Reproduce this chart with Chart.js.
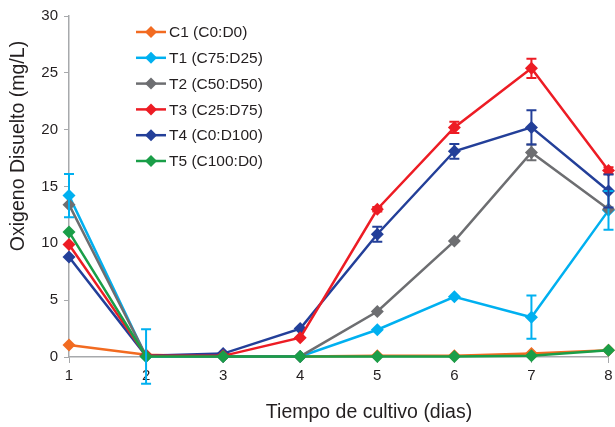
<!DOCTYPE html>
<html>
<head>
<meta charset="utf-8">
<script src="https://cdn.jsdelivr.net/npm/chart.js@4"></script>
<style>
  html, body { margin: 0; padding: 0; background: #fff; }
  #wrap { width: 615px; height: 427px; position: relative; }
</style>
</head>
<body>
<div id="wrap"><canvas id="oxChart" width="615" height="427"></canvas></div>
<script>
// dias de cultivo
const days = [1, 2, 3, 4, 5, 6, 7, 8];

const seriesNames = ["C1 (C0:D0)", "T1 (C75:D25)", "T2 (C50:D50)", "T3 (C25:D75)", "T4 (C0:D100)", "T5 (C100:D0)"];
const seriesColors = ["#F26B21", "#00B0F0", "#6D6E71", "#ED1C24", "#233F99", "#1A9E48"];

const c1 = [1.05, 0.2, 0.05, 0.05, 0.1, 0.1, 0.3, 0.6];
const t1 = [14.2, 0.05, 0.05, 0.05, 2.4, 5.3, 3.5, 12.9];
const t2 = [13.4, 0.1, 0.05, 0.05, 4.0, 10.2, 18.0, 13.0];
const t3 = [9.9, 0.1, 0.1, 1.7, 13.0, 20.2, 25.4, 16.4];
const t4 = [8.8, 0.1, 0.3, 2.5, 10.8, 18.1, 20.2, 14.6];
const t5 = [11.0, 0.05, 0.05, 0.05, 0.05, 0.05, 0.1, 0.6];

// desviaciones (barras de error)
const c1Err = [0, 0, 0, 0, 0, 0, 0, 0];
const t1Err = [1.9, 2.4, 0, 0, 0, 0, 1.9, 1.7];
const t2Err = [0, 0, 0, 0, 0, 0, 0.7, 0];
const t3Err = [0, 0, 0, 0, 0.2, 0.5, 0.85, 0.3];
const t4Err = [0, 0, 0, 0, 0.65, 0.65, 1.5, 1.45];
const t5Err = [0, 0, 0, 0, 0, 0, 0, 0];

const yTicks = [0, 5, 10, 15, 20, 25, 30];
const xTitle = "Tiempo de cultivo (dias)";
const yTitle = "Oxigeno Disuelto (mg/L)";

const allValues = [c1, t1, t2, t3, t4, t5];
const allErrors = [c1Err, t1Err, t2Err, t3Err, t4Err, t5Err];
const drawOrder = [5, 4, 3, 1, 2, 0];

const FONT = "'Liberation Sans', Arial, sans-serif";
const TEXT = "#231F20";

const errorBars = {
  id: "errorBars",
  afterDatasetsDraw(chart) {
    const ctx = chart.ctx;
    const y = chart.scales.y;
    chart.data.datasets.forEach((ds, i) => {
      const meta = chart.getDatasetMeta(i);
      ds.errors.forEach((e, j) => {
        if (!e) return;
        const px = meta.data[j].x;
        const top = y.getPixelForValue(ds.data[j] + e);
        const bot = y.getPixelForValue(ds.data[j] - e);
        ctx.save();
        ctx.strokeStyle = ds.borderColor;
        ctx.lineWidth = 2;
        ctx.beginPath();
        ctx.moveTo(px, top); ctx.lineTo(px, bot);
        ctx.moveTo(px - 5, top); ctx.lineTo(px + 5, top);
        ctx.moveTo(px - 5, bot); ctx.lineTo(px + 5, bot);
        ctx.stroke();
        ctx.restore();
      });
    });
  }
};

// titulos de ejes, colocados como en el original
const axisTitles = {
  id: "axisTitles",
  afterDraw(chart) {
    const ctx = chart.ctx;
    ctx.save();
    ctx.fillStyle = TEXT;
    ctx.font = "19.5px " + FONT;
    ctx.textAlign = "center";
    ctx.textBaseline = "middle";
    ctx.fillText(xTitle, 369, 413);
    ctx.translate(19, 146);
    ctx.rotate(-Math.PI / 2);
    ctx.fillText(yTitle, 0, 0);
    ctx.restore();
  }
};

const insideLegend = {
  id: "insideLegend",
  afterDraw(chart) {
    const ctx = chart.ctx;
    const x0 = 136, y0 = 32, gap = 25.8;
    ctx.save();
    ctx.font = "15.5px " + FONT;
    ctx.textBaseline = "middle";
    chart.data.datasets.forEach((ds, i) => {
      const yy = y0 + i * gap;
      ctx.strokeStyle = ds.borderColor;
      ctx.fillStyle = ds.borderColor;
      ctx.lineWidth = 2.5;
      ctx.beginPath();
      ctx.moveTo(x0, yy); ctx.lineTo(x0 + 30, yy);
      ctx.stroke();
      ctx.beginPath();
      ctx.moveTo(x0 + 15, yy - 6); ctx.lineTo(x0 + 21, yy);
      ctx.lineTo(x0 + 15, yy + 6); ctx.lineTo(x0 + 9, yy);
      ctx.closePath();
      ctx.fill();
      ctx.fillStyle = TEXT;
      ctx.fillText(ds.label, x0 + 33, yy + 1);
    });
    ctx.restore();
  }
};

const datasets = seriesNames.map((name, i) => ({
  label: name,
  data: allValues[i],
  errors: allErrors[i],
  borderColor: seriesColors[i],
  backgroundColor: seriesColors[i],
  borderWidth: 2.5,
  pointStyle: "rectRot",
  pointRadius: 6.5,
  pointBorderWidth: 0,
  tension: 0,
  clip: false,
  order: drawOrder[i]
}));

new Chart(document.getElementById("oxChart"), {
  type: "line",
  data: { labels: days, datasets },
  options: {
    responsive: false,
    animation: false,
    layout: { padding: { top: 16, right: 6, left: 3, bottom: 0 } },
    plugins: { legend: { display: false }, tooltip: { enabled: false } },
    scales: {
      x: {
        type: "category",
        offset: false,
        grid: { drawOnChartArea: false, color: "#A7A9AC", tickLength: 6 },
        border: { color: "#A7A9AC", width: 1.5 },
        ticks: { color: TEXT, font: { family: FONT, size: 15 }, padding: 4 },
        afterFit(s) { s.height = 70; s.paddingRight = 0; s.paddingLeft = 0; }
      },
      y: {
        min: 0, max: 30,
        afterBuildTicks(s) { s.ticks = yTicks.map(v => ({ value: v })); },
        grid: { drawOnChartArea: false, color: "#A7A9AC", tickLength: 5 },
        border: { color: "#A7A9AC", width: 1.5 },
        ticks: { color: TEXT, font: { family: FONT, size: 15 }, padding: 6 },
        afterFit(s) { s.width = 66; s.paddingTop = 0; s.paddingBottom = 0; }
      }
    }
  },
  plugins: [errorBars, axisTitles, insideLegend]
});
</script>
</body>
</html>
